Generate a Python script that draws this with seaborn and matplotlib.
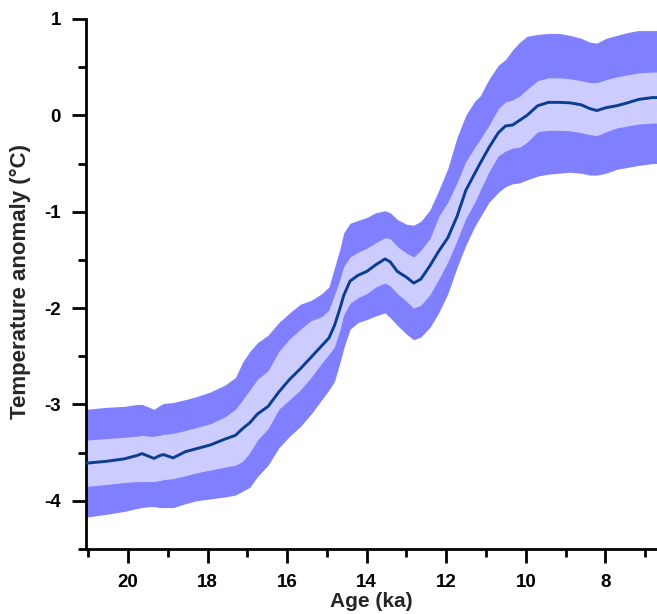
import matplotlib
matplotlib.use("Agg")
import matplotlib.pyplot as plt
from matplotlib.ticker import MultipleLocator
import pandas as pd
import seaborn as sns

# Age (ka BP) of each sample
age = [21.06, 20.55, 20.10, 19.78, 19.65, 19.47, 19.35, 19.20, 19.11, 18.87, 18.56, 18.29,
       17.93, 17.57, 17.30, 17.12, 16.94, 16.75, 16.48, 16.21, 15.94, 15.67, 15.40, 15.13,
       14.95, 14.81, 14.67, 14.58, 14.42, 14.22, 14.00, 13.77, 13.54, 13.41, 13.23, 13.00,
       12.82, 12.64, 12.41, 12.19, 11.96, 11.73, 11.51, 11.28, 11.15, 10.92, 10.69, 10.51,
       10.33, 10.15, 9.97, 9.70, 9.43, 9.16, 8.89, 8.61, 8.39, 8.21, 7.98, 7.71, 7.44, 7.17, 6.81, 6.69]

# Mean temperature anomaly (degC)
temp = [-3.61, -3.59, -3.565, -3.53, -3.51, -3.54, -3.56, -3.53, -3.52, -3.555, -3.49, -3.46,
        -3.42, -3.36, -3.32, -3.25, -3.19, -3.10, -3.02, -2.87, -2.74, -2.63, -2.51, -2.39,
        -2.31, -2.18, -2.00, -1.87, -1.72, -1.66, -1.62, -1.55, -1.49, -1.52, -1.62, -1.68,
        -1.74, -1.70, -1.56, -1.41, -1.27, -1.05, -0.78, -0.60, -0.50, -0.33, -0.18, -0.11,
        -0.10, -0.05, 0.0, 0.10, 0.135, 0.135, 0.13, 0.11, 0.07, 0.05, 0.08, 0.10, 0.13, 0.165, 0.185, 0.185]

# 1-sigma envelope
inner_hi = [-3.37, -3.355, -3.34, -3.33, -3.32, -3.33, -3.33, -3.32, -3.31, -3.30, -3.27, -3.24,
            -3.20, -3.13, -3.05, -2.95, -2.85, -2.74, -2.65, -2.45, -2.32, -2.22, -2.13, -2.09,
            -2.02, -1.86, -1.70, -1.57, -1.47, -1.42, -1.38, -1.32, -1.27, -1.28, -1.36, -1.43,
            -1.47, -1.40, -1.28, -1.05, -0.90, -0.70, -0.48, -0.33, -0.25, -0.10, 0.07, 0.14,
            0.16, 0.20, 0.27, 0.36, 0.39, 0.39, 0.38, 0.36, 0.34, 0.34, 0.37, 0.40, 0.42, 0.44, 0.45, 0.45]
inner_lo = [-3.85, -3.83, -3.81, -3.80, -3.80, -3.80, -3.80, -3.79, -3.78, -3.77, -3.74, -3.71,
            -3.68, -3.65, -3.63, -3.59, -3.50, -3.37, -3.25, -3.05, -2.95, -2.85, -2.72, -2.57,
            -2.48, -2.40, -2.22, -2.07, -1.95, -1.89, -1.85, -1.78, -1.74, -1.77, -1.85, -1.93,
            -2.00, -1.97, -1.86, -1.70, -1.52, -1.30, -1.07, -0.90, -0.78, -0.58, -0.42, -0.37,
            -0.34, -0.33, -0.28, -0.17, -0.155, -0.155, -0.16, -0.18, -0.20, -0.21, -0.17, -0.13, -0.11, -0.09, -0.08, -0.08]

# 2-sigma envelope
outer_hi = [-3.05, -3.03, -3.02, -3.00, -3.00, -3.03, -3.05, -3.01, -2.99, -2.98, -2.95, -2.92,
            -2.87, -2.80, -2.72, -2.56, -2.45, -2.36, -2.28, -2.15, -2.05, -1.96, -1.92, -1.85,
            -1.78, -1.58, -1.38, -1.22, -1.12, -1.09, -1.06, -1.01, -0.99, -1.01, -1.08, -1.13,
            -1.14, -1.10, -0.98, -0.78, -0.55, -0.23, 0.0, 0.15, 0.20, 0.38, 0.52, 0.58,
            0.68, 0.76, 0.82, 0.84, 0.85, 0.85, 0.83, 0.80, 0.76, 0.75, 0.80, 0.83, 0.86, 0.88, 0.88, 0.88]
outer_lo = [-4.17, -4.14, -4.11, -4.08, -4.07, -4.06, -4.06, -4.07, -4.07, -4.07, -4.03, -4.00,
            -3.98, -3.96, -3.94, -3.90, -3.86, -3.75, -3.63, -3.45, -3.33, -3.23, -3.10, -2.95,
            -2.85, -2.76, -2.56, -2.42, -2.22, -2.15, -2.12, -2.08, -2.05, -2.10, -2.18, -2.27,
            -2.33, -2.30, -2.20, -2.05, -1.85, -1.58, -1.35, -1.15, -1.06, -0.90, -0.80, -0.74,
            -0.71, -0.70, -0.67, -0.63, -0.61, -0.60, -0.59, -0.60, -0.62, -0.62, -0.60, -0.56, -0.54, -0.52, -0.50, -0.50]

x_ticks = [20, 18, 16, 14, 12, 10, 8]
y_ticks = [1, 0, -1, -2, -3, -4]

df = pd.DataFrame({"age": age, "temp": temp})

sns.set_style("ticks")
plt.rcParams["font.family"] = ["Liberation Sans", "DejaVu Sans"]
plt.rcParams["font.weight"] = "bold"
plt.rcParams["axes.unicode_minus"] = False

fig = plt.figure(figsize=(6.57, 6.14), dpi=100)
ax = fig.add_axes([86 / 657, 1 - 549 / 614, 1 - 86 / 657, (549 - 19) / 614])

ax.fill_between(age, outer_lo, outer_hi, color="#8080ff", linewidth=0, zorder=1)
ax.fill_between(age, inner_lo, inner_hi, color="#ccccff", linewidth=0, zorder=2)
sns.lineplot(data=df, x="age", y="temp", ax=ax, color="#0b3d91", linewidth=2.1,
             sort=False, zorder=3)

ax.set_xlim(21.06, 6.70)
ax.set_ylim(-4.5, 1)
ax.set_xticks(x_ticks)
ax.set_xticklabels([str(v) for v in x_ticks])
ax.set_yticks(y_ticks)
ax.set_yticklabels([str(v) for v in y_ticks])
ax.xaxis.set_minor_locator(MultipleLocator(1))
ax.yaxis.set_minor_locator(MultipleLocator(0.5))

ax.tick_params(axis="both", which="major", length=10, width=2, labelsize=13.5,
               color="black", labelcolor="black")
ax.tick_params(axis="both", which="minor", length=6, width=2, color="black")
ax.tick_params(axis="x", which="major", pad=8)
ax.tick_params(axis="y", which="major", pad=8)

for side in ("top", "right"):
    ax.spines[side].set_visible(False)
for side in ("left", "bottom"):
    ax.spines[side].set_linewidth(2)
    ax.spines[side].set_color("black")

ax.set_xlabel("Age (ka)", fontsize=15, fontweight="bold", labelpad=1)
ax.set_ylabel("Temperature anomaly (\u00b0C)", fontsize=16, fontweight="bold")
ax.yaxis.set_label_coords(-0.097, 0.505)

fig.savefig("out.png", dpi=100)
